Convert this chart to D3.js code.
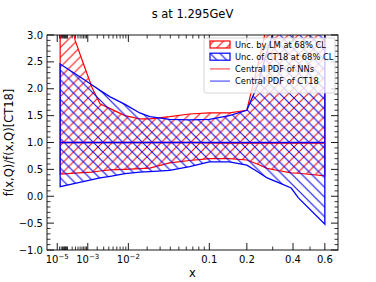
<!DOCTYPE html>
<html><head><meta charset="utf-8">
<script src="https://cdn.jsdelivr.net/npm/d3@7"></script>
<style>
body{margin:0;background:#fff}
svg{display:block;font-family:"DejaVu Sans",sans-serif}
</style>
</head><body>
<script>
// ---- data ----
const xValues   = [2.3e-5, 2.9e-4, 6.7e-4, 1.4e-3, 2.4e-3, 4.3e-3, 8.7e-3, 0.0155, 0.0218, 0.0393, 0.065, 0.1, 0.1475, 0.2, 0.237, 0.276, 0.33, 0.39, 0.43, 0.6];
const lmUpper   = [4.2, 2.9, 2.48, 2.02, 1.72, 1.63, 1.50, 1.44, 1.44, 1.48, 1.53, 1.55, 1.55, 1.60, 2.4, 3.2, 4.5, 5.5, 6.0, 8.0];
const lmLower   = [0.41, 0.43, 0.44, 0.45, 0.47, 0.49, 0.50, 0.515, 0.525, 0.62, 0.665, 0.70, 0.70, 0.675, 0.60, 0.52, 0.475, 0.435, 0.428, 0.38];
const ctUpper   = [2.46, 2.28, 2.18, 2.07, 1.97, 1.85, 1.71, 1.55, 1.48, 1.43, 1.42, 1.43, 1.50, 1.60, 2.05, 2.7, 3.4, 4.0, 4.5, 6.0];
const ctLower   = [0.18, 0.24, 0.27, 0.31, 0.34, 0.37, 0.42, 0.45, 0.46, 0.48, 0.55, 0.64, 0.64, 0.58, 0.46, 0.34, 0.25, 0.153, -0.03, -0.52];
const nnCentral = [1.0, 1.0, 1.0, 1.0, 1.0, 1.0, 1.0, 1.0, 1.0, 1.0, 1.0, 0.995, 0.99, 0.99, 0.99, 0.99, 0.99, 0.99, 0.99, 0.99];
const ctCentral = [1.0, 1.0, 1.0, 1.0, 1.0, 1.0, 1.0, 1.0, 1.0, 1.0, 1.0, 1.0, 1.0, 1.0, 1.0, 1.0, 1.0, 1.0, 1.0, 1.0];
const xMajorTicks = [1e-5, 1e-3, 1e-2, 0.1, 0.2, 0.4, 0.6];
const xMajorLabels = [["10","\u22125"],["10","\u22123"],["10","\u22122"],["0.1",""],["0.2",""],["0.4",""],["0.6",""]];
const yMajorTicks = [-1.0, -0.5, 0.0, 0.5, 1.0, 1.5, 2.0, 2.5, 3.0];
const legendLabels = ["Unc. by LM at 68% CL", "Unc. of CT18 at 68% CL", "Central PDF of NNs", "Central PDF of CT18"];
const titleText = "s at 1.295GeV";
const xLabel = "x";
const yLabel = "f(x,Q)/f(x,Q)[CT18]";

// ---- layout ----
const W = 376, H = 282;
const L = 47, R = 338, T = 35, B = 250;
const RED = "#ff0000", BLUE = "#0000ff";

const svg = d3.select("body").append("svg").attr("width", W).attr("height", H);
const x = d3.scalePow().exponent(0.3).domain([0, 0.7]).range([L, R]);
const y = d3.scaleLinear().domain([-1, 3]).range([B, T]);

const defs = svg.append("defs");
defs.append("clipPath").attr("id", "plotclip").append("rect")
  .attr("x", L).attr("y", T).attr("width", R - L).attr("height", B - T);

function hatch(id, color, dir) {
  const s = 9.8;
  const p = defs.append("pattern").attr("id", id).attr("patternUnits", "userSpaceOnUse")
    .attr("width", s).attr("height", s);
  const d = dir === "/"
    ? `M${-s/2},${s/2}L${s/2},${-s/2}M0,${s}L${s},0M${s/2},${1.5*s}L${1.5*s},${s/2}`
    : `M${-s/2},${s/2}L${s/2},${1.5*s}M0,0L${s},${s}M${s/2},${-s/2}L${1.5*s},${s/2}`;
  p.append("path").attr("d", d).attr("stroke", color).attr("stroke-width", 1).attr("fill", "none");
}
hatch("hatchRed", RED, "/");
hatch("hatchBlue", BLUE, "\\");

const rows = xValues.map((xv, i) => ({x: xv, lmU: lmUpper[i], lmL: lmLower[i], ctU: ctUpper[i], ctL: ctLower[i], nn: nnCentral[i], ct: ctCentral[i]}));

const plot = svg.append("g").attr("clip-path", "url(#plotclip)");
const areaLM = d3.area().x(d => x(d.x)).y0(d => y(d.lmL)).y1(d => y(d.lmU));
const areaCT = d3.area().x(d => x(d.x)).y0(d => y(d.ctL)).y1(d => y(d.ctU));
plot.append("path").datum(rows).attr("d", d => areaLM(d) + "Z")
  .attr("fill", "url(#hatchRed)").attr("stroke", RED).attr("stroke-width", 1.2);
plot.append("path").datum(rows).attr("d", d => areaCT(d) + "Z")
  .attr("fill", "url(#hatchBlue)").attr("stroke", BLUE).attr("stroke-width", 1.3);
const lineNN = d3.line().x(d => x(d.x)).y(d => y(d.nn));
const lineCT = d3.line().x(d => x(d.x)).y(d => y(d.ct));
plot.append("path").datum(rows).attr("d", lineNN).attr("fill", "none").attr("stroke", RED).attr("stroke-width", 1.4);
plot.append("path").datum(rows).attr("d", lineCT).attr("fill", "none").attr("stroke", BLUE).attr("stroke-width", 1.4);

// ---- axes frame & ticks ----
const axes = svg.append("g");
axes.append("rect").attr("x", L).attr("y", T).attr("width", R - L).attr("height", B - T)
  .attr("fill", "none").attr("stroke", "#000").attr("stroke-width", 0.9);

const majLen = 7, minLen = 3.5;
// x minor ticks
const xMinor = [];
for (let e = -5; e <= -2; e++) for (let k = 1; k <= 9; k++) {
  const v = k * Math.pow(10, e);
  if (!xMajorTicks.some(t => Math.abs(t - v) / v < 1e-6)) xMinor.push(v);
}
xMinor.push(0.3, 0.5);
xMinor.forEach(v => {
  const px = x(v);
  axes.append("line").attr("x1", px).attr("x2", px).attr("y1", B).attr("y2", B - minLen).attr("stroke", "#000").attr("stroke-width", 0.8);
  axes.append("line").attr("x1", px).attr("x2", px).attr("y1", T).attr("y2", T + minLen).attr("stroke", "#000").attr("stroke-width", 0.8);
});
xMajorTicks.forEach((v, i) => {
  const px = x(v);
  axes.append("line").attr("x1", px).attr("x2", px).attr("y1", B).attr("y2", B - majLen).attr("stroke", "#000").attr("stroke-width", 0.9);
  axes.append("line").attr("x1", px).attr("x2", px).attr("y1", T).attr("y2", T + majLen).attr("stroke", "#000").attr("stroke-width", 0.9);
  const t = axes.append("text").attr("x", px).attr("y", B + 13).attr("text-anchor", "middle")
    .attr("font-size", 10).attr("fill", "#000");
  t.append("tspan").text(xMajorLabels[i][0]);
  if (xMajorLabels[i][1]) t.append("tspan").attr("dy", -4).attr("font-size", 7).text(xMajorLabels[i][1]);
});
// y ticks
const yMinor = d3.range(-10, 31).map(v => v / 10).filter(v => Math.abs(v * 2 - Math.round(v * 2)) > 1e-6);
yMinor.forEach(v => {
  const py = y(v);
  axes.append("line").attr("x1", L).attr("x2", L + minLen).attr("y1", py).attr("y2", py).attr("stroke", "#000").attr("stroke-width", 0.8);
  axes.append("line").attr("x1", R).attr("x2", R - minLen).attr("y1", py).attr("y2", py).attr("stroke", "#000").attr("stroke-width", 0.8);
});
yMajorTicks.forEach(v => {
  const py = y(v);
  axes.append("line").attr("x1", L).attr("x2", L + majLen).attr("y1", py).attr("y2", py).attr("stroke", "#000").attr("stroke-width", 0.9);
  axes.append("line").attr("x1", R).attr("x2", R - majLen).attr("y1", py).attr("y2", py).attr("stroke", "#000").attr("stroke-width", 0.9);
  axes.append("text").attr("x", L - 4).attr("y", py + 3.6).attr("text-anchor", "end")
    .attr("font-size", 10).attr("fill", "#000").text(d3.format(".1f")(v).replace("-", "\u2212"));
});

// ---- labels ----
svg.append("text").attr("x", (L + R) / 2).attr("y", 18).attr("text-anchor", "middle")
  .attr("font-size", 11.5).attr("fill", "#000").text(titleText);
svg.append("text").attr("x", (L + R) / 2).attr("y", 277).attr("text-anchor", "middle")
  .attr("font-size", 11.5).attr("fill", "#000").text(xLabel);
svg.append("text").attr("transform", `translate(13,${(T + B) / 2}) rotate(-90)`).attr("text-anchor", "middle")
  .attr("font-size", 11.5).attr("fill", "#000").text(yLabel);

// ---- legend ----
const lg = svg.append("g");
lg.append("rect").attr("x", 204).attr("y", 38).attr("width", 131).attr("height", 55).attr("rx", 2)
  .attr("fill", "#fff").attr("fill-opacity", 0.8).attr("stroke", "#cccccc").attr("stroke-width", 0.8);
const rowY = i => 44.5 + i * 12.2;
lg.append("rect").attr("x", 210).attr("y", rowY(0) - 3.5).attr("width", 20).attr("height", 7)
  .attr("fill", "url(#hatchRed)").attr("stroke", RED).attr("stroke-width", 1.2);
lg.append("rect").attr("x", 210).attr("y", rowY(1) - 3.5).attr("width", 20).attr("height", 7)
  .attr("fill", "url(#hatchBlue)").attr("stroke", BLUE).attr("stroke-width", 1.2);
lg.append("line").attr("x1", 210).attr("x2", 230).attr("y1", rowY(2)).attr("y2", rowY(2))
  .attr("stroke", RED).attr("stroke-opacity", 0.55).attr("stroke-width", 1.5);
lg.append("line").attr("x1", 210).attr("x2", 230).attr("y1", rowY(3)).attr("y2", rowY(3))
  .attr("stroke", BLUE).attr("stroke-opacity", 0.55).attr("stroke-width", 1.5);
legendLabels.forEach((lab, i) => {
  lg.append("text").attr("x", 235).attr("y", rowY(i) + 3).attr("font-size", 8.3).attr("fill", "#000").text(lab);
});
</script>
</body></html>
